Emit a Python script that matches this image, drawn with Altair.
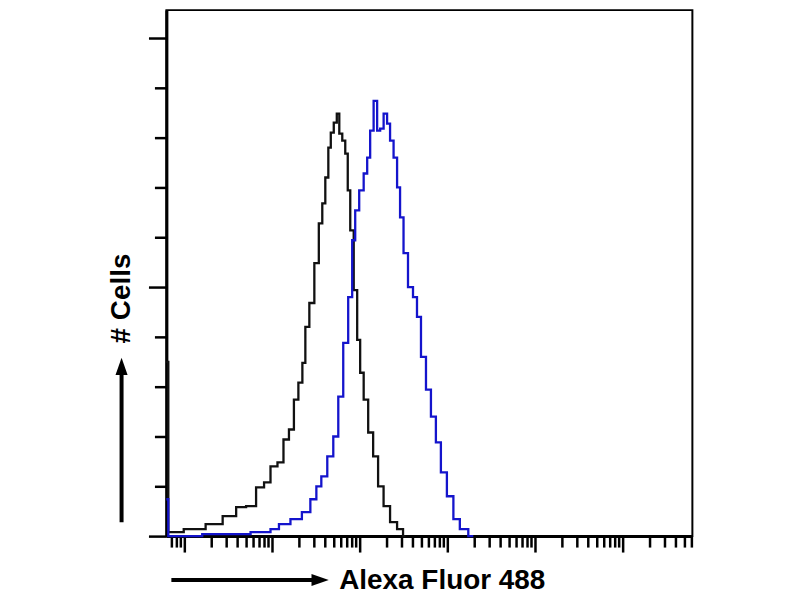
import altair as alt
import pandas as pd

# Isotype control (black) histogram: fluorescence intensity and cell count
control_x = [6.19, 6.87, 13.9, 21.7, 34.0, 44.1, 57.3, 74.5, 87.1, 104.5, 125.6, 143.2,
             167.5, 185.8, 211.8, 229.1, 247.7, 282.5, 322.1, 357.3, 386.4, 418.8, 452.9,
             476.4, 529.7, 558.5, 603.9, 653.1, 706.3, 744.7, 805.4, 893.1, 966.1, 1044.7,
             1161.4, 1324.3, 1506.6, 1717.9, 2009.0, 2415.4, 2904.0, 3303.7]
control_n = [35.0, 0.8, 1.4, 2.4, 4.0, 5.8, 6.0, 9.8, 10.8, 14.0, 14.8, 19.4,
             21.4, 27.4, 30.8, 34.8, 42.0, 46.8, 54.8, 62.8, 66.8, 72.0, 78.0,
             81.0, 83.0, 84.8, 80.8, 79.4, 76.8, 69.4, 61.4, 49.4, 39.4, 32.8,
             27.4, 20.8, 16.0, 10.0, 6.0, 2.8, 1.4, 0.0]

# Stained sample (blue) histogram
sample_x = [6.19, 6.87, 36.7, 87.1, 104.5, 135.8, 191.0, 247.7, 297.9, 339.6, 386.4,
            464.5, 529.7, 603.9, 687.1, 783.4, 847.2, 918.3, 1044.7, 1161.4, 1256.1,
            1358.2, 1506.6, 1633.1, 1766.0, 1958.8, 2118.4, 2290.9, 2546.8, 2754.2,
            2978.5, 3303.7, 3767.0, 4295.4, 4645.2, 5296.6, 6039.3, 6870.9, 7834.4,
            8933.1, 10739.7, 12560.3, 15066.1, 19588.4]
sample_n = [7.4, 0.0, 0.4, 0.8, 1.4, 2.4, 3.4, 4.8, 7.4, 10.0, 12.0,
            16.0, 20.0, 28.0, 38.8, 48.0, 59.4, 65.4, 69.4, 72.8, 76.0,
            81.4, 87.4, 81.4, 81.8, 84.8, 82.8, 79.4, 76.0, 70.0,
            64.0, 56.8, 50.0, 48.0, 44.0, 36.0, 29.4, 24.0, 18.8,
            12.8, 8.0, 3.4, 1.4, 0.0]

series_names = ["Control", "Alexa Fluor 488"]
series_colors = ["#111111", "#1414cc"]

x_title = "Alexa Fluor 488"
y_title = "# Cells"
y_ticks = [0, 10, 20, 30, 40, 50, 60, 70, 80, 90, 100]
x_ticks = [m * 10 ** k for k in range(0, 7) for m in range(1, 10)
           if 6.2 <= m * 10 ** k <= 6.1e6]

rows = [{"series": series_names[0], "fl": x, "count": n} for x, n in zip(control_x, control_n)]
rows += [{"series": series_names[1], "fl": x, "count": n} for x, n in zip(sample_x, sample_n)]
df = pd.DataFrame(rows)

title_font = "Liberation Sans"

x_axis = alt.Axis(
    values=x_ticks, labels=False, grid=False,
    domainColor="black", domainWidth=3,
    tickColor="black", tickWidth=2.5,
    tickSize={"condition": {"test": "abs(log(datum.value)/LN10 - round(log(datum.value)/LN10)) < 0.01",
                            "value": 16}, "value": 11},
    title=x_title, titleX=173, titleY=53, titleAlign="left", titleBaseline="alphabetic",
    titleFont=title_font, titleFontSize=28, titleFontWeight="bold", titleColor="black",
)
y_axis = alt.Axis(
    values=y_ticks, labels=False, grid=False,
    domainColor="black", domainWidth=3,
    tickColor="black", tickWidth=2.5,
    tickSize={"condition": {"test": "datum.value % 50 == 0", "value": 18}, "value": 12},
    title=y_title, titleX=-45, titleY=289, titleAngle=270, titleAlign="center",
    titleBaseline="middle",
    titleFont=title_font, titleFontSize=28, titleFontWeight="bold", titleColor="black",
)

lines = alt.Chart(df).mark_line(interpolate="step", strokeWidth=2.3).encode(
    x=alt.X("fl:Q", scale=alt.Scale(type="log", domain=[6.2, 6.17e6], nice=False), axis=x_axis),
    y=alt.Y("count:Q", scale=alt.Scale(domain=[0, 105.6], nice=False, zero=True), axis=y_axis),
    color=alt.Color("series:N", scale=alt.Scale(domain=series_names, range=series_colors), legend=None),
    order=alt.Order("fl:Q"),
)

one = alt.Data(values=[{"k": 1}])
h_rule = alt.Chart(one).mark_rule(color="black", strokeWidth=4).encode(
    x=alt.value(5), x2=alt.value(150), y=alt.value(572))
h_head = alt.Chart(one).mark_point(shape="M -1 -0.7 L 1 0 L -1 0.7 Z", filled=True, size=300,
                                   color="black", opacity=1, strokeWidth=0).encode(
    x=alt.value(154.3), y=alt.value(572))
v_rule = alt.Chart(one).mark_rule(color="black", strokeWidth=4).encode(
    x=alt.value(-45), y=alt.value(514), y2=alt.value(362))
v_head = alt.Chart(one).mark_point(shape="M -0.7 1 L 0 -1 L 0.7 1 Z", filled=True, size=300,
                                   color="black", opacity=1, strokeWidth=0).encode(
    x=alt.value(-45), y=alt.value(357.7))

chart = alt.layer(lines, h_rule, h_head, v_rule, v_head).properties(
    width=528, height=528,
    autosize=alt.AutoSizeParams(type="none"),
    padding={"left": 159, "top": 1, "right": 100, "bottom": 62},
    background="white",
).configure_view(stroke="black", strokeWidth=2)

chart.save("out.html", embed_options={"renderer": "svg", "actions": False})
